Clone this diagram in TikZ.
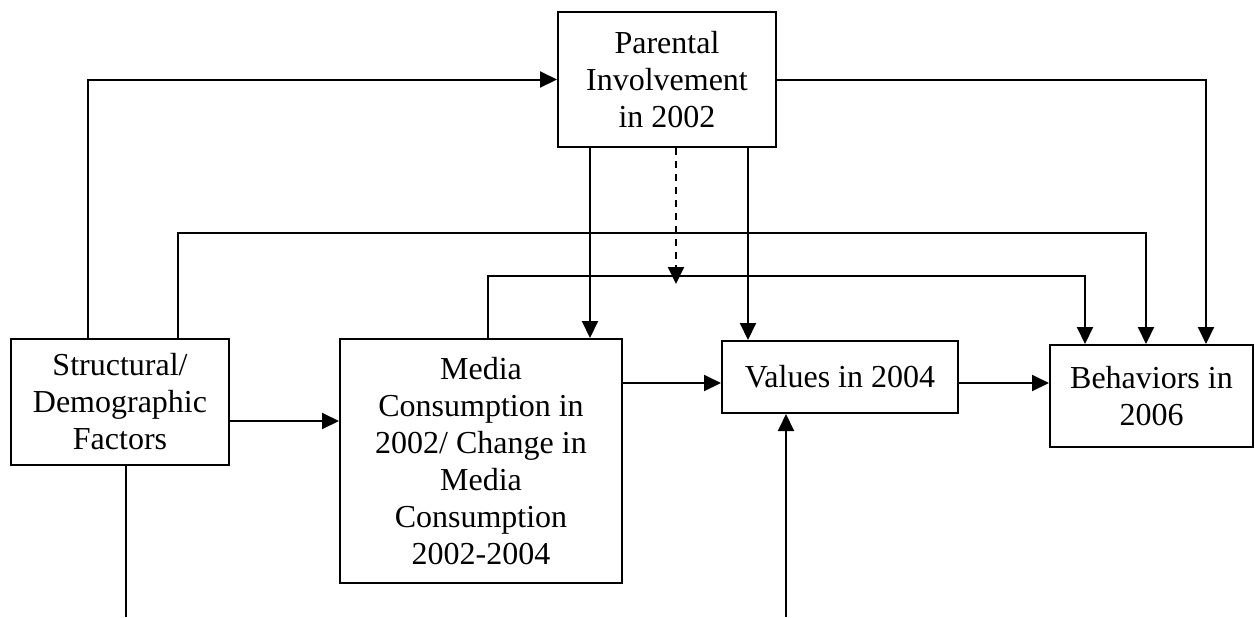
\documentclass[tikz,border=0pt]{standalone}
\usepackage{fontspec}
\setmainfont{Liberation Serif}
\usetikzlibrary{arrows.meta}
\begin{document}
\begin{tikzpicture}[x=0.5pt, y=-0.5pt, line width=1pt,
    box/.style={draw, align=center, inner sep=0pt, font=\fontsize{16}{18.5}\selectfont},
    arr/.style={-{Triangle[length=8.5pt,width=8pt]}}]
    \useasboundingbox (0,0) rectangle (1255,617);
    \node[box, minimum width=109pt, minimum height=67.5pt] (parent) at (667, 79.5) {Parental\\Involvement\\in 2002};
    \node[box, minimum width=109pt, minimum height=63pt] (struct) at (120, 402) {Structural/\\Demographic\\Factors};
    \node[box, minimum width=141pt, minimum height=122pt] (media) at (481, 461) {Media\\Consumption in\\2002/ Change in\\Media\\Consumption\\2002-2004};
    \node[box, minimum width=118pt, minimum height=36pt] (values) at (840, 377) {Values in 2004};
    \node[box, minimum width=101.5pt, minimum height=51pt] (behav) at (1151.5, 396) {Behaviors in\\2006};
    \coordinate (mod) at (676, 284);
    \coordinate (low1) at (126, 617);
    \coordinate (low2) at (786, 617);
    \draw[arr] (struct.north -| 88,0) |- (parent.west);
    \draw[arr] (struct.north -| 178,0) |- (1146,233) -- (behav.north -| 1146,0);
    \draw[arr] (media.north -| 488,0) |- (1085,276) -- (behav.north -| 1085,0);
    \draw[arr] (parent.south -| 590,0) -- (media.north -| 590,0);
    \draw[arr, dash pattern=on 3.5pt off 3pt] (parent.south -| mod) -- (mod);
    \draw[arr] (parent.south -| 748,0) -- (values.north -| 748,0);
    \draw[arr] (parent.east) -| (behav.north -| 1206,0);
    \draw[arr] (struct.east |- 0,421) -- (media.west |- 0,421);
    \draw[arr] (media.east |- 0,383) -- (values.west |- 0,383);
    \draw[arr] (values.east |- 0,383) -- (behav.west |- 0,383);
    \draw (struct.south -| low1) -- (low1);
    \draw[arr] (low2) -- (values.south -| low2);
\end{tikzpicture}
\end{document}
